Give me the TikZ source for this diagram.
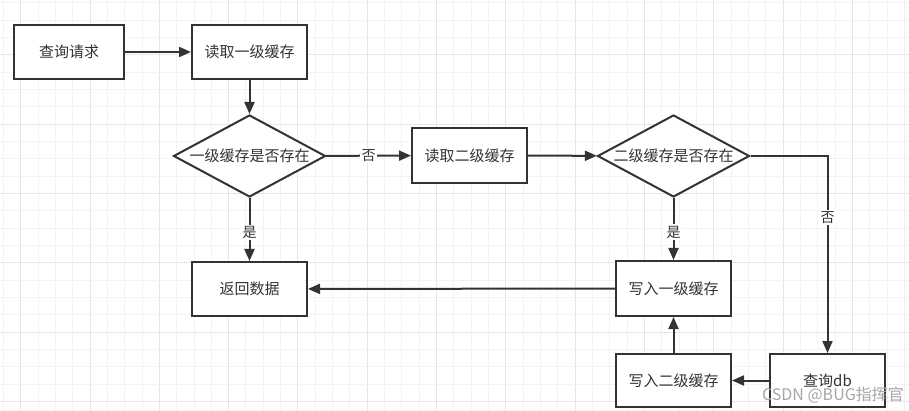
\documentclass[tikz,border=0pt]{standalone}
\usepackage{fontspec}
\setmainfont{Noto Sans CJK SC}
\usetikzlibrary{shapes.geometric,arrows.meta}
\definecolor{ink}{HTML}{333333}
\definecolor{gridminor}{HTML}{F3F3F3}
\definecolor{gridmajor}{HTML}{E6E6E6}
\begin{document}
\begin{tikzpicture}[x=1pt,y=-1pt,
  txt/.style={text=ink,font=\fontsize{15}{17}\selectfont},
  boxnode/.style={draw=ink,line width=2pt,fill=white,minimum width=115pt,minimum height=54pt,inner sep=0pt,txt},
  decnode/.style={diamond,draw=ink,line width=2pt,fill=white,aspect=1.85,minimum width=152pt,minimum height=82pt,inner sep=0pt},
  conn/.style={draw=ink,line width=2pt,-{Triangle[length=12pt,width=10pt]}},
  elabel/.style={fill=white,text=ink,inner sep=1.5pt,font=\fontsize{14}{16}\selectfont}]
\useasboundingbox (0,0) rectangle (909,411);
\fill[white] (0,0) rectangle (909,411);
% grid
\foreach \i in {0,...,52} {
  \pgfmathsetmacro{\gx}{3.37+17.33*\i}
  \pgfmathtruncatemacro{\m}{mod(\i+3,4)}
  \ifnum\m=0 \draw[gridmajor,line width=1pt] (\gx,0) -- (\gx,411);
  \else \draw[gridminor,line width=1pt] (\gx,0) -- (\gx,411); \fi
}
\foreach \j in {0,...,23} {
  \pgfmathsetmacro{\gy}{3.0+17.33*\j}
  \pgfmathtruncatemacro{\m}{mod(\j+1,4)}
  \ifnum\m=0 \draw[gridmajor,line width=1pt] (0,\gy) -- (909,\gy);
  \else \draw[gridminor,line width=1pt] (0,\gy) -- (909,\gy); \fi
}
% nodes
\node[boxnode,minimum width=110pt] (q1) at (69,52) {查询请求};
\node[boxnode] (r1) at (249.5,52) {读取一级缓存};
\node[decnode,label={[txt,inner sep=0pt]center:一级缓存是否存在}] (d1) at (249.5,156) {};
\node[boxnode,minimum height=55pt] (r2) at (469.5,155.5) {读取二级缓存};
\node[decnode,label={[txt,inner sep=0pt]center:二级缓存是否存在}] (d2) at (673.5,156) {};
\node[boxnode] (ret) at (249.5,289) {返回数据};
\node[boxnode,minimum height=55pt] (w1) at (673.5,288.5) {写入一级缓存};
\node[boxnode,minimum height=53pt] (w2) at (673.5,380.5) {写入二级缓存};
\node[boxnode,minimum height=53pt] (db) at (827.5,380.5) {查询db};
% connectors
\draw[conn] (q1) -- (r1);
\draw[conn] (r1) -- (d1);
\draw[conn] (d1) -- node[elabel,pos=0.5]{否} (r2);
\draw[conn] (r2) -- (d2);
\draw[conn] (d1) -- node[elabel,pos=0.55]{是} (ret);
\draw[conn] (d2) -- node[elabel,pos=0.55]{是} (w1);
\draw[conn] (d2.east) -| node[elabel,pos=0.656]{否} (db);
\draw[conn] (w1) -- (ret);
\draw[conn] (db) -- (w2);
\draw[conn] (w2) -- (w1);
% watermark
\node[text=black!35,font=\fontsize{16}{18}\selectfont,anchor=east,inner sep=0pt] (wm) at (904,395) {CSDN @BUG指挥官};
\end{tikzpicture}
\end{document}
